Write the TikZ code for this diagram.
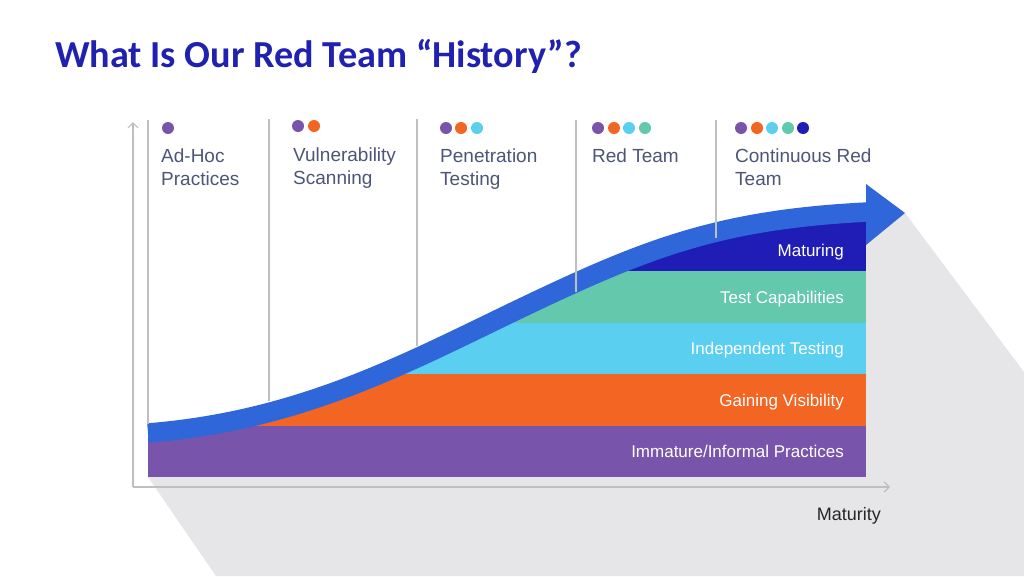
\documentclass[tikz,border=0pt]{standalone}
\usepackage{fontspec}
\setmainfont{Liberation Sans}
\newfontfamily\titlefont{Carlito}
\usetikzlibrary{arrows.meta}
\definecolor{cpurple}{HTML}{7855AA}
\definecolor{corange}{HTML}{F26522}
\definecolor{clblue}{HTML}{5BCFF0}
\definecolor{cteal}{HTML}{64C8AD}
\definecolor{cdblue}{HTML}{1F1DB5}
\definecolor{ccurve}{HTML}{2F66DA}
\definecolor{cshadow}{HTML}{E6E6E8}
\definecolor{caxis}{HTML}{BFBFBF}
\definecolor{ctitle}{HTML}{2121B0}
\definecolor{clabel}{HTML}{4D5578}
\definecolor{cdark}{HTML}{262626}
\begin{document}
\begin{tikzpicture}[x=1pt,y=-1pt,
  stagelab/.style={inner sep=0pt, text=clabel, anchor=base west, font=\fontsize{19}{23}\selectfont},
  bandlab/.style={inner sep=0pt, text=white, anchor=base east, font=\fontsize{17}{20}\selectfont},
  dot/.style={circle, inner sep=0pt, minimum size=12pt},
  sepline/.style={draw=caxis, line width=1.3pt},
  axisline/.style={draw=caxis, line width=1.1pt, -{Straight Barb[length=5pt,width=10pt]}}]
\useasboundingbox (0,0) rectangle (1024,576);
\fill[white] (0,0) rectangle (1024,576);
% shadow
\fill[cshadow] (148,477) -- (216,576) -- (1024,576) -- (1024,372) -- (905,213) -- (866,213) -- (866,477) -- cycle;
% bands clipped below curve
\begin{scope}
\clip (148,433) .. controls (298,421) and (403,365) .. (513,312) .. controls (643,249.6) and (716,219.5) .. (866,212) -- (866,480) -- (148,480) -- cycle;
\fill[cpurple] (148,425.5) rectangle (866,477);
\fill[corange] (148,374) rectangle (866,425.5);
\fill[clblue] (148,322.5) rectangle (866,374);
\fill[cteal] (148,271) rectangle (866,322.5);
\fill[cdblue] (148,221) rectangle (866,271);
\end{scope}
% curve arrow
\draw[ccurve, line width=19.5pt] (148,433) .. controls (298,421) and (403,365) .. (513,312) .. controls (643,249.6) and (716,219.5) .. (868,212);
\fill[ccurve] (866,184) -- (905,213) -- (866,245) -- cycle;
% separators
\coordinate (t1) at (148,120); \coordinate (b1) at (148,424);
\coordinate (t2) at (269,119); \coordinate (b2) at (269,401);
\coordinate (t3) at (417,119); \coordinate (b3) at (417,346);
\coordinate (t4) at (576,120); \coordinate (b4) at (576,292);
\coordinate (t5) at (716,120); \coordinate (b5) at (716,238);
\draw[sepline] (t1) -- (b1);
\draw[sepline] (t2) -- (b2);
\draw[sepline] (t3) -- (b3);
\draw[sepline] (t4) -- (b4);
\draw[sepline] (t5) -- (b5);
% axes
\coordinate (origin) at (133,487);
\coordinate (ytop) at (133,122);
\coordinate (xend) at (890,487);
\draw[axisline] (origin) -- (ytop);
\draw[axisline] (origin) -- (xend);
% title
\node[inner sep=0pt, anchor=base west, text=ctitle, font=\titlefont\bfseries\fontsize{38.2}{42}\selectfont] (title) at (55,67) {What Is Our Red Team “History”?};
% stage labels
\node[stagelab] (s1a) at (161,162) {Ad-Hoc};
\node[stagelab] (s1b) at (161,185) {Practices};
\node[stagelab] (s2a) at (293,161) {Vulnerability};
\node[stagelab] (s2b) at (293,184) {Scanning};
\node[stagelab] (s3a) at (440,162) {Penetration};
\node[stagelab] (s3b) at (440,185) {Testing};
\node[stagelab] (s4a) at (592,162) {Red Team};
\node[stagelab] (s5a) at (735,162) {Continuous Red};
\node[stagelab] (s5b) at (735,185) {Team};
% dots
\node[dot, fill=cpurple] (d11) at (168,128) {};
\node[dot, fill=cpurple] (d21) at (298,126) {};
\node[dot, fill=corange] (d22) at (314,126) {};
\node[dot, fill=cpurple] (d31) at (446,128) {};
\node[dot, fill=corange] (d32) at (461,128) {};
\node[dot, fill=clblue] (d33) at (477,128) {};
\node[dot, fill=cpurple] (d41) at (598,128) {};
\node[dot, fill=corange] (d42) at (614,128) {};
\node[dot, fill=clblue] (d43) at (629,128) {};
\node[dot, fill=cteal] (d44) at (645,128) {};
\node[dot, fill=cpurple] (d51) at (741,128) {};
\node[dot, fill=corange] (d52) at (757,128) {};
\node[dot, fill=clblue] (d53) at (772,128) {};
\node[dot, fill=cteal] (d54) at (788,128) {};
\node[dot, fill=cdblue] (d55) at (803,128) {};
% band labels
\node[bandlab] (l5) at (844,256) {Maturing};
\node[bandlab] (l4) at (844,303) {Test Capabilities};
\node[bandlab] (l3) at (844,354) {Independent Testing};
\node[bandlab] (l2) at (844,406) {Gaining Visibility};
\node[bandlab] (l1) at (844,457.5) {Immature/Informal Practices};
% axis label
\node[inner sep=0pt, anchor=base east, text=cdark, font=\fontsize{18}{21}\selectfont] (mat) at (881,520) {Maturity};
\end{tikzpicture}
\end{document}
